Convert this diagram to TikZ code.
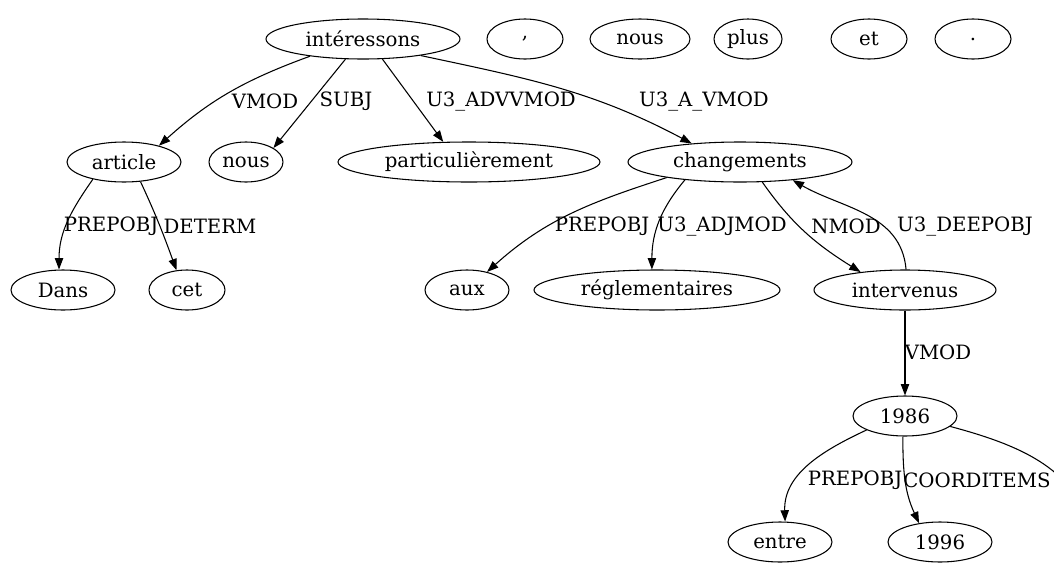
\documentclass[tikz,border=0pt]{standalone}
\usepackage{fontspec}
\setmainfont{DejaVu Serif}
\usetikzlibrary{shapes.geometric,arrows.meta}
\begin{document}
\begin{tikzpicture}[x=0.75pt,y=-0.75pt,
  tok/.style={draw,ellipse,line width=0.8pt,inner sep=0pt,minimum height=30pt,font=\fontsize{14.8}{17}\selectfont},
  lbl/.style={font=\fontsize{14.8}{17}\selectfont,inner sep=0pt},
  dep/.style={line width=0.8pt,-{Triangle[length=8.5pt,width=6.2pt]}},
  plain/.style={line width=0.8pt}]
\useasboundingbox (0,0) rectangle (1054,565);
\clip (0,0) rectangle (1054,565);
% nodes
\node[tok,minimum width=145.5pt] (int) at (363,39) {intéressons};
\node[tok,minimum width=57pt] (comma) at (525,39) {,};
\node[tok,minimum width=75pt] (nous1) at (640,39) {nous};
\node[tok,minimum width=51pt] (plus) at (748,39) {plus};
\node[tok,minimum width=57pt] (et) at (869,39) {et};
\node[tok,minimum width=57pt] (dot) at (973,39) {.};
\node[tok,minimum width=85.5pt] (article) at (124,162) {article};
\node[tok,minimum width=55.5pt] (nous2) at (246,162) {nous};
\node[tok,minimum width=196.5pt] (part) at (469,162) {particulièrement};
\node[tok,minimum width=168pt] (chg) at (740,162) {changements};
\node[tok,minimum width=78pt] (dans) at (63,290) {Dans};
\node[tok,minimum width=57pt] (cet) at (187,290) {cet};
\node[tok,minimum width=63pt] (aux) at (467,290) {aux};
\node[tok,minimum width=184.5pt] (regl) at (657,290) {réglementaires};
\node[tok,minimum width=136.5pt] (interv) at (905,290) {intervenus};
\node[tok,minimum width=78pt] (y86) at (905,416) {1986};
\node[tok,minimum width=78pt] (entre) at (780,542) {entre};
\node[tok,minimum width=78pt] (y96) at (940,542) {1996};
\coordinate (offright) at (1090,540);
% edges
\draw[dep] (int.198) to[out=200,in=42] (article.25);
\draw[dep] (int.229) -- (nous2.27);
\draw[dep] (int.314) -- (part.142);
\draw[dep] (int.344) to[out=-12,in=152] (chg.159);
\draw[dep] (article.209) to[out=235,in=90] (dans.101);
\draw[dep] (article.310) to[out=-65,in=110] (cet.118);
\draw[dep] (chg.192) to[out=198,in=42] (aux.42);
\draw[dep] (chg.198) to[out=230,in=90] (regl.104);
\draw[dep] (chg.318) to[out=-55,in=148] (interv.158);
\draw[dep] (interv.87) to[out=95,in=-30] (chg.341);
\draw[dep] (interv.south) -- (y86.north);
\draw[dep] (y86.200) to[out=205,in=92] (entre.76);
\draw[dep] (y86.264) to[out=-90,in=115] (y96.138);
\draw[plain] (y86.-13) to[out=-15,in=95] (offright);
% labels
\node[lbl] (l1) at (265,101) {VMOD};
\node[lbl] (l2) at (346,101) {SUBJ};
\node[lbl] (l3) at (501,101) {U3\_ADVVMOD};
\node[lbl] (l4) at (704,101) {U3\_A\_VMOD};
\node[lbl] (l5) at (111,226) {PREPOBJ};
\node[lbl] (l6) at (210,226) {DETERM};
\node[lbl] (l7) at (602,226) {PREPOBJ};
\node[lbl] (l8) at (722,226) {U3\_ADJMOD};
\node[lbl] (l9) at (846,226) {NMOD};
\node[lbl] (l10) at (965,226) {U3\_DEEPOBJ};
\node[lbl] (l11) at (938,352) {VMOD};
\node[lbl] (l12) at (855,480) {PREPOBJ};
\node[lbl] (l13) at (977,480) {COORDITEMS};
\end{tikzpicture}
\end{document}
